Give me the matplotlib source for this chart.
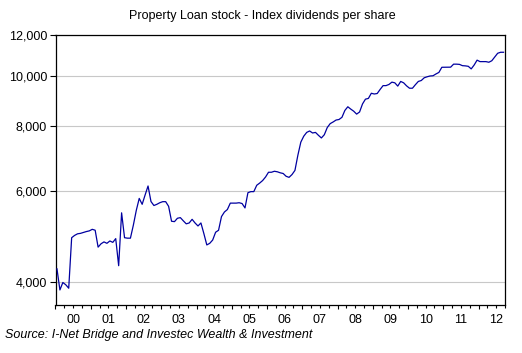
import numpy as np
import matplotlib.pyplot as plt
from matplotlib.ticker import FuncFormatter, NullLocator

plt.rcParams['font.family'] = ['Liberation Sans', 'DejaVu Sans']

# monthly index dividends per share, Jan 2000 - Sep 2012
START_YEAR = 2000
dividends = [
    4240, 3860, 3990, 3950, 3890, 4870, 4920, 4955, 4965, 4985, 5005, 5020,
    5055, 5035, 4670, 4740, 4780, 4750, 4800, 4770, 4850, 4300, 5440, 4870,
    4860, 4860, 5150, 5500, 5800, 5650, 5890, 6130, 5720, 5620, 5650, 5690,
    5717, 5717, 5600, 5240, 5231, 5310, 5325, 5250, 5180, 5200, 5285, 5200,
    5131, 5200, 4960, 4716, 4750, 4820, 4990, 5034, 5350, 5460, 5520, 5680,
    5680, 5680, 5690, 5670, 5560, 5950, 5978, 5978, 6150, 6210, 6280, 6380,
    6516, 6516, 6545, 6530, 6500, 6480, 6400, 6370, 6450, 6570, 7030, 7450,
    7650, 7780, 7830, 7760, 7780, 7680, 7590, 7700, 7950, 8090, 8150, 8220,
    8240, 8320, 8580, 8720, 8630, 8550, 8440, 8520, 8830, 9020, 9050, 9260,
    9230, 9250, 9420, 9580, 9580, 9630, 9730, 9700, 9560, 9760, 9700, 9570,
    9470, 9470, 9620, 9760, 9800, 9920, 9965, 10000, 10010, 10090, 10160, 10395,
    10395, 10395, 10400, 10540, 10540, 10530, 10470, 10460, 10440, 10320, 10500, 10730,
    10660, 10660, 10660, 10630, 10700, 10880, 11063, 11113, 11113,
]
year_labels = ['00', '01', '02', '03', '04', '05', '06', '07', '08', '09', '10', '11', '12']
y_ticks = [4000, 6000, 8000, 10000, 12000]

months = np.arange(len(dividends))
dates = START_YEAR + (months + 0.5) / 12

fig = plt.figure(figsize=(5.22, 3.53), dpi=100)
ax = fig.add_axes([55.5 / 522, 48 / 353, 449.5 / 522, 270 / 353])

ax.plot(dates, dividends, color='#0000a0', lw=0.9, zorder=3)

ax.set_yscale('log')
ax.set_ylim(3610, 12000)
ax.set_yticks(y_ticks)
ax.yaxis.set_major_formatter(FuncFormatter(lambda v, p: f'{v:,.0f}'))
ax.yaxis.set_minor_locator(NullLocator())
ax.grid(axis='y', color='#c8c8c8', lw=0.8)
ax.set_axisbelow(True)

# year boundaries get the long ticks, quarters the short ones, labels sit mid-year
ax.set_xlim(START_YEAR, START_YEAR + 12.75)
years = START_YEAR + np.arange(13)
ax.set_xticks(years, labels=[''] * len(years))
quarters = []
q_labels = []
for k, lab in enumerate(year_labels):
    for q in (0.25, 0.5, 0.75):
        quarters.append(START_YEAR + k + q)
        q_labels.append(lab if q == 0.5 else '')
ax.set_xticks(quarters, labels=q_labels, minor=True)

ax.tick_params(axis='x', which='major', direction='out', length=3.2, width=0.8)
ax.tick_params(axis='x', which='minor', direction='out', length=1.8, width=0.8,
               pad=4.5, labelsize=9)
ax.tick_params(axis='y', direction='out', length=4, width=0.8, pad=2, labelsize=9)

for s in ax.spines.values():
    s.set_linewidth(0.9)
    s.set_color('black')

fig.text(262 / 522, 1 - 16 / 353, 'Property Loan stock - Index dividends per share',
         ha='center', va='center', fontsize=9)
fig.text(5 / 522, 1 - 335 / 353, 'Source: I-Net Bridge and Investec Wealth & Investment',
         ha='left', va='center', fontsize=9, style='italic')

fig.savefig('out.png', dpi=100)
